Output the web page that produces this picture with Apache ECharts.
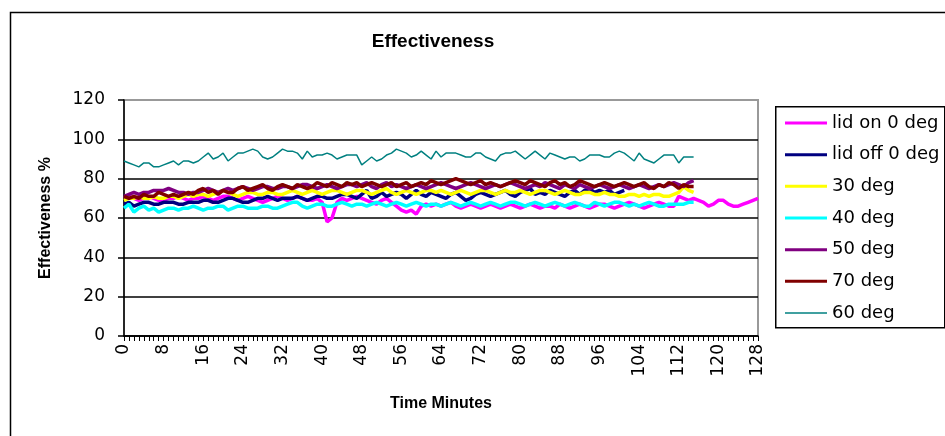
<!DOCTYPE html>
<html><head><meta charset="utf-8">
<script src="https://cdn.jsdelivr.net/npm/echarts@6/dist/echarts.min.js"></script>
<style>html,body{margin:0;padding:0;background:#fff}#c{width:945px;height:436px}</style>
</head><body><div id="c"></div>
<script>
const minutes = [0,1,2,3,4,5,6,7,8,9,10,11,12,13,14,15,16,17,18,19,20,21,22,23,24,25,26,27,28,29,30,31,32,33,34,35,36,37,38,39,40,41,42,43,44,45,46,47,48,49,50,51,52,53,54,55,56,57,58,59,60,61,62,63,64,65,66,67,68,69,70,71,72,73,74,75,76,77,78,79,80,81,82,83,84,85,86,87,88,89,90,91,92,93,94,95,96,97,98,99,100,101,102,103,104,105,106,107,108,109,110,111,112,113,114,115,116,117,118,119,120,121,122,123,124,125,126,127,128];

const lidOn0 = [70,71,70,69,70,71,70,69,69,70,70,71,70,69,70,70,
71,70,69,70,71,71,70,69,70,71,70,69,68,69,70,71,
70,69,70,71,70,69,69,70,68,58,60,68,70,69,70,71,
70,69,68,67,69,70,68,66,64,63,64,62,66,67,66,67,
66,67,68,66,65,66,67,66,65,66,67,66,65,66,67,66,
65,66,67,66,65,66,66,65,67,66,65,66,67,66,65,66,
67,67,66,65,66,67,68,67,66,65,66,67,68,67,66,66,
71,70,69,70,69,68,66,67,69,69,67,66,66,67,68,69,70];

const lidOff0 = [67,68,66,67,68,68,67,67,68,68,68,67,67,68,68,68,
69,69,68,68,69,70,70,69,68,68,69,70,70,71,70,69,
70,70,70,71,70,69,70,71,71,70,70,71,72,72,71,70,
72,74,70,71,73,71,72,73,72,70,72,74,72,71,73,72,
71,70,72,73,71,69,70,72,73,72,71,72,73,74,72,71,
73,74,75,72,73,72,74,73,72,71,73,74,72,74,75,73,
74,73,74,72,73,74];

const deg30 = [69,70,70,71,70,70,71,70,70,71,71,70,71,72,71,72,
72,71,72,73,74,73,72,71,72,73,73,72,72,73,73,72,
72,73,74,73,72,73,74,73,72,73,74,74,73,72,73,74,
74,73,72,73,74,75,73,72,73,74,73,72,73,74,74,73,
74,73,72,73,74,73,72,73,74,74,73,72,73,74,73,73,
74,73,72,73,74,74,73,72,73,74,73,72,72,73,73,72,
72,73,72,72,71,71,72,72,71,72,71,72,72,71,71,72,
73,76,74,73];

const deg40 = [65,67,63,65,66,64,65,63,64,65,65,64,65,65,66,65,
64,65,65,66,66,64,65,66,66,65,65,65,66,66,65,65,
66,67,68,68,66,65,66,67,67,66,66,67,68,67,66,67,
67,66,67,68,67,66,67,68,67,66,67,68,67,66,67,67,
66,67,68,67,66,67,68,67,66,67,68,67,66,67,68,68,
67,66,67,68,67,66,67,68,67,66,67,68,67,66,66,68,
67,66,67,68,68,67,66,67,66,67,68,67,66,66,67,67,
67,67,68,68];

const deg50 = [71,72,73,72,73,73,74,74,74,75,74,73,73,72,73,73,
74,75,74,73,74,75,74,75,76,75,74,75,76,76,75,75,
76,76,75,76,77,77,76,75,76,77,76,75,76,77,77,76,
77,78,76,75,77,78,76,77,76,75,76,77,76,75,76,77,
78,77,76,75,76,77,78,77,76,75,76,77,76,77,78,77,
76,75,76,77,76,78,77,76,75,77,76,75,77,76,75,76,
77,76,75,76,77,76,75,76,77,76,75,76,77,76,77,78,
77,76,78,79];

const deg70 = [71,70,71,70,72,71,71,73,72,71,72,71,72,73,72,74,
75,73,74,72,74,73,73,75,76,74,75,76,77,75,74,76,
77,76,75,77,76,75,76,78,77,76,78,77,76,78,77,78,
76,77,78,77,76,77,78,76,77,78,76,77,78,77,79,78,
77,78,79,80,79,78,77,78,79,77,78,77,76,77,78,79,
78,77,79,78,77,76,78,79,77,78,76,77,79,78,77,76,
77,78,77,76,77,78,77,76,77,78,76,75,77,76,78,77,
75,77,76,76];

const deg60 = [89,88,87,86,88,88,86,86,87,88,89,87,89,89,88,89,
91,93,90,91,93,89,91,93,93,94,95,94,91,90,91,93,
95,94,94,93,90,94,91,92,92,93,92,90,91,92,92,92,
87,89,91,89,90,92,93,95,94,93,91,92,94,92,90,94,
91,93,93,93,92,91,91,93,93,91,90,89,92,93,93,94,
92,90,92,94,92,90,93,92,91,90,91,91,89,90,92,92,
92,91,91,93,94,93,91,89,93,90,89,88,90,92,92,92,
88,91,91,91];

const seriesNames = ['lid on 0 deg','lid off 0 deg','30 deg','40 deg','50 deg','70 deg','60 deg'];
const seriesData = [lidOn0, lidOff0, deg30, deg40, deg50, deg70, deg60];
const seriesColors = ['#ff00ff','#000080','#ffff00','#00ffff','#800080','#800000','#008080'];
const seriesWidths = [3.5,3.5,3.5,3.5,3.5,3.5,1.5];

const chart = echarts.init(document.getElementById('c'), null, {renderer:'canvas'});
const tickFont = 'DejaVu Sans';
chart.setOption({
  animation: false,
  backgroundColor: '#ffffff',
  title: {
    text: 'Effectiveness', left: 428, top: 27, textAlign: 'center',
    textStyle: {fontFamily: 'Liberation Sans', fontWeight: 'bold', fontSize: 19, color: '#000'}
  },
  graphic: [
    {type:'rect', left: 8, top: 10, shape:{width: 960, height: 440}, style:{fill:'none', stroke:'#000', lineWidth:1.5}, z: -1},
    {type:'rect', left: 775, top: 106, shape:{width: 169, height: 221}, style:{fill:'#fff', stroke:'#000', lineWidth:1.5}, z: 0}
  ],
  legend: {
    orient: 'vertical', left: 785, top: 114,
    itemWidth: 42, itemHeight: 18, itemGap: 13.67,
    padding: 0,
    textStyle: {fontFamily: tickFont, fontSize: 18, color: '#000'},
    data: seriesNames.map((n, i) => ({name: n, icon: seriesWidths[i] > 2 ? 'path://M0,0 H42 V3 H0 Z' : 'path://M0,0 H42 V1.5 H0 Z'})),
    z: 5
  },
  grid: {left: 124, top: 100, right: 187, bottom: 100, show: true, borderColor: '#999', borderWidth: 2, backgroundColor: '#fff'},
  xAxis: {
    type: 'category', data: minutes, boundaryGap: false,
    name: 'Time Minutes', nameLocation: 'middle', nameGap: 60,
    nameTextStyle: {fontFamily: 'Liberation Sans', fontWeight: 'bold', fontSize: 16, color: '#000'},
    axisLine: {lineStyle: {color: '#000', width: 1.5}},
    axisTick: {interval: 0, length: 5, lineStyle: {color: '#000', width: 1}},
    axisLabel: {interval: 7, rotate: 90, margin: 8, fontFamily: tickFont, fontSize: 17, color: '#000'},
    splitLine: {show: false}
  },
  yAxis: {
    type: 'value', min: 0, max: 120, interval: 20,
    name: 'Effectiveness %', nameLocation: 'middle', nameGap: 70, nameRotate: 90,
    nameTextStyle: {fontFamily: 'Liberation Sans', fontWeight: 'bold', fontSize: 16, color: '#000'},
    axisLine: {show: true, lineStyle: {color: '#000', width: 1.5}},
    axisTick: {show: true, length: 6, lineStyle: {color: '#000', width: 1.5}},
    axisLabel: {margin: 19, fontFamily: tickFont, fontSize: 17, color: '#000'},
    splitLine: {show: true, showMaxLine: false, lineStyle: {color: '#000', width: 1.5}}
  },
  series: seriesNames.map((n, i) => ({
    name: n, type: 'line', data: seriesData[i], symbol: 'none', smooth: false,
    color: seriesColors[i],
    lineStyle: {color: seriesColors[i], width: seriesWidths[i]}
  }))
});
</script></body></html>
